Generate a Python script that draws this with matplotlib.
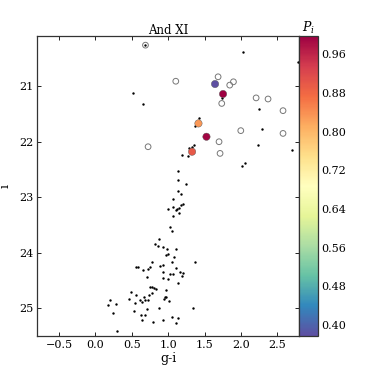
import matplotlib
matplotlib.use("Agg")
from matplotlib import pyplot as plt
import numpy as np

# all stars in the field (small black dots)
star_gi = [0.688, 2.036, 2.787, 0.517, 0.66, 1.747, 2.25, 1.421, 1.366, 2.287,
           2.232, 2.71, 1.356, 1.283, 1.325, 1.197, 1.279, 2.012, 2.054, 1.142,
           1.142, 1.252, 1.142, 1.173, 1.06, 1.205, 1.06, 1.15, 1.173, 0.999,
           1.105, 1.122, 1.146, 1.06, 1.031, 1.05, 0.88, 0.825, 0.857, 0.926,
           0.985, 1.109, 0.967, 1.004, 1.081, 1.054, 0.779, 1.376, 0.554, 0.586,
           0.756, 0.894, 0.935, 1.114, 0.66, 0.72, 0.93, 1.164, 1.022, 1.06,
           1.20, 1.187, 0.706, 0.93, 0.995, 1.142, 0.747, 0.774, 0.802, 0.834,
           0.977, 0.49, 0.779, 0.737, 0.558, 0.674, 0.963, 0.949, 0.967, 0.458,
           0.609, 0.688, 0.724, 0.641, 0.55, 1.018, 0.206, 0.174, 0.284, 0.88,
           0.706, 1.348, 0.531, 0.248, 0.627, 0.678, 1.05, 1.132, 0.646, 0.788,
           0.93, 1.105, 0.298]
star_i = [20.26, 20.39, 20.56, 21.12, 21.32, 21.22, 21.41, 21.57, 21.72, 21.77,
          22.05, 22.15, 22.06, 22.11, 22.10, 22.23, 22.26, 22.44, 22.39, 22.52,
          22.69, 22.77, 22.89, 22.95, 23.03, 23.12, 23.17, 23.19, 23.14, 23.22,
          23.23, 23.21, 23.29, 23.33, 23.53, 23.60, 23.76, 23.84, 23.88, 23.90,
          23.93, 23.93, 24.04, 24.03, 24.08, 24.16, 24.16, 24.16, 24.25, 24.25,
          24.26, 24.24, 24.22, 24.27, 24.31, 24.30, 24.34, 24.34, 24.38, 24.38,
          24.37, 24.41, 24.44, 24.45, 24.48, 24.54, 24.62, 24.62, 24.63, 24.65,
          24.67, 24.71, 24.73, 24.77, 24.77, 24.79, 24.80, 24.83, 24.79, 24.83,
          24.85, 24.85, 24.85, 24.89, 24.90, 24.87, 24.86, 24.94, 24.93, 24.99,
          25.01, 25.00, 25.05, 25.08, 25.13, 25.13, 25.15, 25.17, 25.22, 25.24,
          25.22, 25.27, 25.41]

# spectroscopic targets (open circles)
spec_gi = [0.688, 1.105, 1.687, 1.847, 1.898, 1.737, 2.21, 2.374, 2.58, 1.999,
           2.58, 1.70, 1.714, 0.724]
spec_i = [20.26, 20.91, 20.83, 20.98, 20.92, 21.31, 21.21, 21.23, 21.44, 21.80,
          21.85, 22.00, 22.21, 22.09]

# members, coloured by membership probability
mem_gi = [1.645, 1.755, 1.417, 1.527, 1.329]
mem_i = [20.96, 21.14, 21.67, 21.91, 22.18]
mem_p = [0.377, 0.997, 0.83, 0.99, 0.90]


def main():
    plt.rcParams["font.family"] = "DejaVu Serif"
    plt.rcParams["font.size"] = 8
    plt.rcParams["mathtext.fontset"] = "dejavuserif"

    fig = plt.figure(figsize=(3.74, 3.74), dpi=100)
    ax = fig.add_axes([0.0997, 0.1016, 0.6998, 0.8014])
    cax = fig.add_axes([0.8003, 0.1016, 0.05, 0.8014])

    ax.scatter(star_gi, star_i, s=3, color="black", linewidths=0, zorder=3)
    ax.scatter(spec_gi, spec_i, s=17, facecolors="none", edgecolors="#777777",
               linewidths=0.7, zorder=2)
    sc = ax.scatter(mem_gi, mem_i, s=28, c=mem_p, cmap="Spectral_r",
                    vmin=min(mem_p), vmax=max(mem_p), edgecolors="#555555",
                    linewidths=0.3, zorder=4)

    ax.set_xlim(-0.8, 2.8)
    ax.set_ylim(25.5, 20.1)
    ax.set_xticks([-0.5, 0.0, 0.5, 1.0, 1.5, 2.0, 2.5])
    ax.set_yticks([21, 22, 23, 24, 25])
    ax.tick_params(direction="in", top=True, right=True, length=3, width=0.6,
                   pad=3)
    ax.set_xlabel("g-i", fontsize=9, labelpad=1)
    ax.set_ylabel("i", fontsize=9, labelpad=5)
    ax.set_title("And XI", fontsize=8.5, pad=2)
    for sp in ax.spines.values():
        sp.set_linewidth(0.9)
        sp.set_color("#333333")

    cb = fig.colorbar(sc, cax=cax)
    cb.set_ticks([0.40, 0.48, 0.56, 0.64, 0.72, 0.80, 0.88, 0.96])
    cb.ax.tick_params(length=0, pad=2)
    cb.outline.set_linewidth(0.9)
    cb.outline.set_edgecolor("#333333")
    cax.set_title("$P_i$", fontsize=9, pad=1)

    fig.savefig("out.png", dpi=100)


if __name__ == "__main__":
    main()
